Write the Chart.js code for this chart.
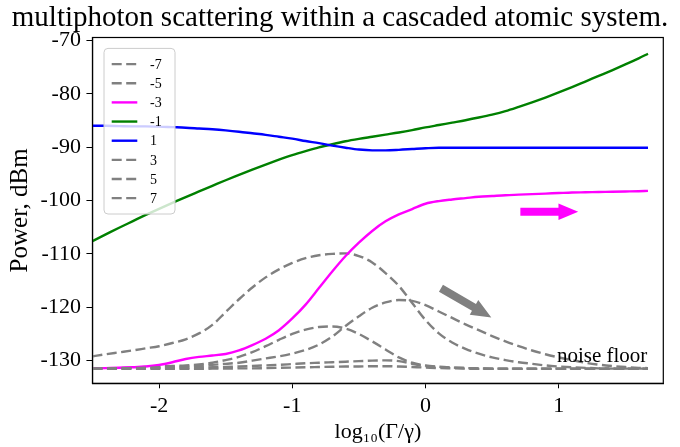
<!DOCTYPE html>
<html>
<head>
<meta charset="utf-8">
<script src="https://cdn.jsdelivr.net/npm/chart.js@4/dist/chart.umd.min.js"></script>
<style>
  body { margin: 0; background: #fff; }
</style>
</head>
<body>
<canvas id="powerChart" width="680" height="447"></canvas>
<script>
// log10(Gamma/gamma) sample points
const xs = [
  -2.5, -2.4, -2.3, -2.2, -2.1, -2.0,
  -1.9, -1.8, -1.7, -1.6, -1.5, -1.4, -1.3, -1.2, -1.1, -1.0,
  -0.9, -0.8, -0.7, -0.6, -0.5, -0.4, -0.3, -0.2, -0.1, 0.0,
  0.1, 0.2, 0.3, 0.4, 0.5, 0.6, 0.7, 0.8, 0.9, 1.0,
  1.1, 1.2, 1.3, 1.4, 1.5, 1.6, 1.67
]

const orderLabels = ['-7', '-5', '-3', '-1', '1', '3', '5', '7']

const powerM7 = [
  -131.5, -131.45, -131.4, -131.3, -131.2, -131.1,
  -131.0, -130.9, -130.7, -130.4, -129.9, -129.3, -128.4, -127.3, -126.1, -125.0,
  -124.2, -123.7, -123.6, -124.0, -125.0, -126.4, -127.9, -129.4, -130.4, -130.9,
  -131.15, -131.3, -131.4, -131.45, -131.5, -131.5, -131.5, -131.5, -131.5, -131.5,
  -131.5, -131.5, -131.5, -131.5, -131.5, -131.5, -131.5
]
const powerM5 = [
  -129.2, -128.8, -128.45, -128.1, -127.7, -127.3,
  -126.7, -126.0, -124.9, -123.3, -120.9, -118.5, -116.3, -114.4, -112.9, -111.7,
  -110.8, -110.25, -110.0, -109.9, -110.4, -111.6, -113.6, -116.0, -119.2, -122.4,
  -124.9, -126.6, -127.8, -128.7, -129.4, -129.9, -130.3, -130.6, -130.9, -131.1,
  -131.25, -131.35, -131.45, -131.5, -131.5, -131.5, -131.5
]
const powerM3 = [
  -131.45, -131.4, -131.35, -131.25, -131.1, -130.8,
  -130.3, -129.7, -129.3, -129.05, -128.75, -128.1, -127.1, -125.9, -124.3, -122.1,
  -119.5, -116.4, -113.3, -110.4, -107.9, -105.7, -103.9, -102.6, -101.6, -100.6,
  -100.1, -99.8, -99.55, -99.3, -99.15, -99.0, -98.9, -98.8, -98.7, -98.6,
  -98.5, -98.45, -98.4, -98.35, -98.3, -98.25, -98.2
]
const powerM1 = [
  -107.6, -106.35, -105.1, -103.9, -102.7, -101.55,
  -100.45, -99.35, -98.3, -97.25, -96.2, -95.2, -94.2, -93.25, -92.35, -91.5,
  -90.75, -90.05, -89.45, -88.9, -88.45, -88.05, -87.65, -87.25, -86.8, -86.3,
  -85.85, -85.4, -84.95, -84.45, -83.9, -83.25, -82.45, -81.6, -80.7, -79.75,
  -78.75, -77.7, -76.65, -75.6, -74.5, -73.35, -72.5
]
const powerP1 = [
  -86.0, -86.0, -86.05, -86.1, -86.1, -86.15,
  -86.25, -86.35, -86.5, -86.65, -86.85, -87.1, -87.4, -87.7, -88.05, -88.4,
  -88.85, -89.25, -89.7, -90.1, -90.45, -90.6, -90.6, -90.5, -90.35, -90.2,
  -90.1, -90.1, -90.1, -90.1, -90.1, -90.1, -90.1, -90.1, -90.1, -90.1,
  -90.1, -90.1, -90.1, -90.1, -90.1, -90.1, -90.1
]
const powerP3 = [
  -131.45, -131.45, -131.4, -131.4, -131.35, -131.3,
  -131.2, -131.1, -131.0, -130.8, -130.6, -130.4, -130.0, -129.6, -129.2, -128.7,
  -128.0, -127.0, -125.5, -123.5, -121.7, -120.1, -119.1, -118.65, -118.8, -119.6,
  -120.8, -122.0, -123.2, -124.3, -125.4, -126.4, -127.3, -128.1, -128.8, -129.4,
  -129.9, -130.4, -130.75, -131.0, -131.2, -131.35, -131.4
]
const powerP5 = [
  -131.5, -131.5, -131.5, -131.45, -131.45, -131.4,
  -131.4, -131.35, -131.3, -131.25, -131.2, -131.1, -131.0, -130.9, -130.8, -130.65,
  -130.5, -130.4, -130.3, -130.2, -130.1, -130.0, -129.95, -130.1, -130.6, -131.0,
  -131.2, -131.3, -131.4, -131.45, -131.5, -131.5, -131.5, -131.5, -131.5, -131.5,
  -131.5, -131.5, -131.5, -131.5, -131.5, -131.5, -131.5
]
const powerP7 = [
  -131.55, -131.55, -131.55, -131.55, -131.55, -131.55,
  -131.55, -131.55, -131.55, -131.5, -131.5, -131.45, -131.45, -131.4, -131.35, -131.3,
  -131.25, -131.2, -131.15, -131.1, -131.1, -131.05, -131.05, -131.1, -131.2, -131.3,
  -131.4, -131.45, -131.5, -131.55, -131.55, -131.55, -131.55, -131.55, -131.55, -131.55,
  -131.55, -131.55, -131.55, -131.55, -131.55, -131.55, -131.55
]

const xTicks = [-2, -1, 0, 1]
const yTicks = [-130, -120, -110, -100, -90, -80, -70]

const serif = "'Liberation Serif', 'DejaVu Serif', serif"

function toPoints(values) {
  return values.map((v, i) => ({ x: xs[i], y: v }))
}

function makeDataset(label, values, color, dashed) {
  return {
    label: label,
    data: toPoints(values),
    borderColor: color,
    borderWidth: 2.4,
    borderDash: dashed ? [10, 4.5] : [],
    pointRadius: 0,
    fill: false,
    cubicInterpolationMode: 'monotone'
  }
}

// frame on top/right, legend box, arrows and the noise floor note
const extrasPlugin = {
  id: 'extras',
  afterDatasetsDraw(chart) {
    const ctx = chart.ctx
    const area = chart.chartArea
    const sx = chart.scales.x
    const sy = chart.scales.y

    ctx.save()
    ctx.strokeStyle = '#000'
    ctx.lineWidth = 1.2
    ctx.strokeRect(area.left, area.top, area.right - area.left, area.bottom - area.top)

    drawArrow(ctx, sx.getPixelForValue(0.712), sy.getPixelForValue(-102.1),
      sx.getPixelForValue(1.146), sy.getPixelForValue(-102.1), 8, 16.6, 19.7, '#ff00ff')
    drawArrow(ctx, sx.getPixelForValue(0.116), sy.getPixelForValue(-116.45),
      sx.getPixelForValue(0.494), sy.getPixelForValue(-121.9), 8, 17, 20, '#808080')

    ctx.fillStyle = '#000'
    ctx.font = '21px ' + serif
    ctx.textAlign = 'center'
    ctx.textBaseline = 'alphabetic'
    ctx.fillText('noise floor', sx.getPixelForValue(1.326), sy.getPixelForValue(-130.21))

    // legend
    const left = 104, top = 48.4, width = 71, height = 165.6
    ctx.beginPath()
    ctx.roundRect(left, top, width, height, 4)
    ctx.fillStyle = 'rgba(255,255,255,0.8)'
    ctx.fill()
    ctx.strokeStyle = '#cccccc'
    ctx.lineWidth = 1
    ctx.stroke()

    ctx.font = '14px ' + serif
    ctx.textAlign = 'left'
    ctx.textBaseline = 'middle'
    chart.data.datasets.forEach((ds, i) => {
      const y = 64.1 + i * 19.15
      ctx.beginPath()
      ctx.setLineDash(ds.borderDash)
      ctx.strokeStyle = ds.borderColor
      ctx.lineWidth = ds.borderWidth
      ctx.moveTo(111.7, y)
      ctx.lineTo(137.3, y)
      ctx.stroke()
      ctx.setLineDash([])
      ctx.fillStyle = '#000'
      ctx.fillText(ds.label, 150, y + 1)
    })
    ctx.restore()
  }
}

function drawArrow(ctx, x0, y0, x1, y1, shaftW, headW, headL, color) {
  const len = Math.hypot(x1 - x0, y1 - y0)
  const ang = Math.atan2(y1 - y0, x1 - x0)
  ctx.save()
  ctx.translate(x0, y0)
  ctx.rotate(ang)
  ctx.beginPath()
  ctx.moveTo(0, -shaftW / 2)
  ctx.lineTo(len - headL, -shaftW / 2)
  ctx.lineTo(len - headL, -headW / 2)
  ctx.lineTo(len, 0)
  ctx.lineTo(len - headL, headW / 2)
  ctx.lineTo(len - headL, shaftW / 2)
  ctx.lineTo(0, shaftW / 2)
  ctx.closePath()
  ctx.fillStyle = color
  ctx.fill()
  ctx.restore()
}

function createPowerChart() {
  const ctx = document.getElementById('powerChart')

  const datasets = [
    makeDataset(orderLabels[0], powerM7, '#808080', true),
    makeDataset(orderLabels[1], powerM5, '#808080', true),
    makeDataset(orderLabels[2], powerM3, '#ff00ff', false),
    makeDataset(orderLabels[3], powerM1, '#008000', false),
    makeDataset(orderLabels[4], powerP1, '#0000ff', false),
    makeDataset(orderLabels[5], powerP3, '#808080', true),
    makeDataset(orderLabels[6], powerP5, '#808080', true),
    makeDataset(orderLabels[7], powerP7, '#808080', true)
  ]
  // later series on top, like the original plot
  datasets.forEach((ds, i) => { ds.order = datasets.length - i })

  new Chart(ctx, {
    type: 'line',
    data: { datasets: datasets },
    plugins: [extrasPlugin],
    options: {
      responsive: false,
      animation: false,
      events: [],
      layout: { padding: 0 },
      plugins: {
        legend: { display: false },
        tooltip: { enabled: false },
        title: {
          display: true,
          text: 'multiphoton scattering within a cascaded atomic system.',
          color: '#000',
          font: { family: serif, size: 29, weight: 'normal', lineHeight: 1.2 },
          padding: { top: 1.1, bottom: 1.6 }
        }
      },
      scales: {
        x: {
          type: 'linear',
          min: -2.5,
          max: 1.785,
          afterBuildTicks: scale => { scale.ticks = xTicks.map(v => ({ value: v })) },
          afterFit: scale => { scale.height = 63.7 },
          ticks: { color: '#000', padding: 5, font: { family: serif, size: 22 } },
          grid: { drawOnChartArea: false, tickLength: 5, tickColor: '#000', tickWidth: 1 },
          border: { color: '#000', width: 1.2 },
          title: {
            display: true,
            text: 'log₁₀(Γ/γ)',
            color: '#000',
            font: { family: serif, size: 22 },
            padding: { top: 0, bottom: 1.2 }
          }
        },
        y: {
          min: -134.25,
          max: -69.45,
          afterBuildTicks: scale => { scale.ticks = yTicks.map(v => ({ value: v })) },
          afterFit: scale => { scale.width = 92.45 },
          ticks: { color: '#000', padding: 5.5, font: { family: serif, size: 22 } },
          grid: { drawOnChartArea: false, tickLength: 6, tickColor: '#000', tickWidth: 1 },
          border: { color: '#000', width: 1.2 },
          title: {
            display: true,
            text: 'Power, dBm',
            color: '#000',
            font: { family: serif, size: 25 },
            padding: { top: 5, bottom: 0 }
          }
        },
        // empty right-hand strip so the title stays centred on the whole canvas
        yRight: {
          position: 'right',
          min: -134.25,
          max: -69.45,
          afterFit: scale => { scale.width = 16.7 },
          ticks: { display: false },
          grid: { display: false },
          border: { display: false }
        }
      }
    }
  })
}

document.addEventListener('DOMContentLoaded', () => createPowerChart())
</script>
</body>
</html>
